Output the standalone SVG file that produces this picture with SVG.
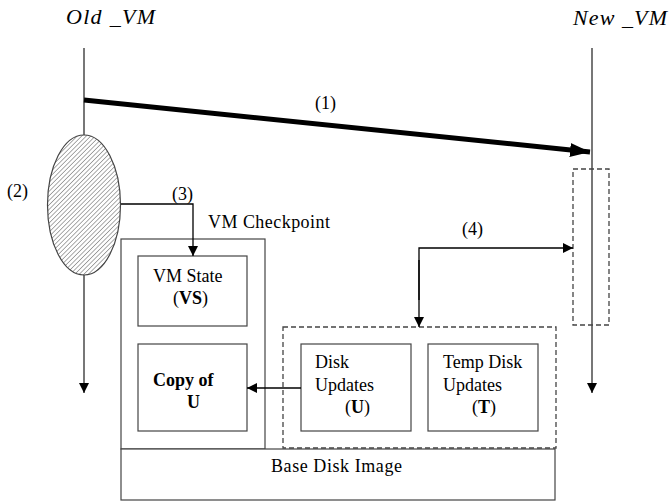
<svg xmlns="http://www.w3.org/2000/svg" width="669" height="502" viewBox="0 0 669 502">
<style>
  text { font-family: "Liberation Serif", "Times New Roman", serif; fill: #000; }
  .lbl { font-size: 18px; }
  .ital { font-size: 22px; font-style: italic; }
  .bold { font-weight: bold; }
  .life { stroke: #555; stroke-width: 1.6; fill: none; }
  .box { stroke: #444; stroke-width: 1.2; fill: #fff; }
  .dash { stroke: #444; stroke-width: 1.3; fill: none; stroke-dasharray: 5,3; }
  .conn { stroke: #000; stroke-width: 1.3; fill: none; }
</style>
<defs>
  <marker id="ah" markerWidth="10" markerHeight="10" refX="10" refY="5" orient="auto" markerUnits="userSpaceOnUse" viewBox="0 0 10 10">
    <path d="M0,0 L10,5 L0,10 z" fill="#000"/>
  </marker>
  <marker id="ahBig" markerWidth="20" markerHeight="14" refX="20" refY="7" orient="auto" markerUnits="userSpaceOnUse" viewBox="0 0 20 14">
    <path d="M0,0 L20,7 L0,14 z" fill="#000"/>
  </marker>
  <pattern id="hatch" width="3.2" height="3.2" patternUnits="userSpaceOnUse" patternTransform="rotate(45)">
    <rect width="3.2" height="3.2" fill="#fff"/>
    <line x1="0" y1="0" x2="0" y2="3.2" stroke="#666" stroke-width="1.1"/>
  </pattern>
</defs>

<g id="old_vm">
  <text class="ital" x="66" y="24" textLength="89" lengthAdjust="spacing">Old _VM</text>
  <line class="life" x1="84" y1="48" x2="84" y2="393" marker-end="url(#ah)"/>
</g>
<g id="new_vm">
  <text class="ital" x="573" y="25" textLength="94" lengthAdjust="spacing">New _VM</text>
  <line class="life" x1="592" y1="48" x2="592" y2="393" marker-end="url(#ah)"/>
</g>

<g id="ellipse2">
  <ellipse cx="84" cy="205" rx="36.5" ry="70" fill="url(#hatch)" stroke="#444" stroke-width="1.2"/>
  <text class="lbl" x="7" y="197">(2)</text>
</g>

<g id="new_vm_region">
  <rect class="dash" x="573" y="169" width="36" height="156"/>
</g>

<g id="checkpoint">
  <rect class="box" x="121" y="239" width="144" height="210"/>
  <text class="lbl" x="208" y="228" textLength="122" lengthAdjust="spacing">VM Checkpoint</text>
</g>

<g id="vm_state">
  <rect class="box" x="138" y="256" width="109" height="70"/>
  <text class="lbl" x="153" y="282">VM State</text>
  <text class="lbl" x="173" y="304">(<tspan class="bold">VS</tspan>)</text>
</g>

<g id="copy_u">
  <rect class="box" x="138" y="344" width="109" height="87"/>
  <text class="lbl bold" x="153" y="386">Copy of</text>
  <text class="lbl bold" x="187" y="408">U</text>
</g>

<g id="base_disk">
  <rect class="box" x="121" y="449" width="434" height="51"/>
  <text class="lbl" x="271" y="472" textLength="131" lengthAdjust="spacing">Base Disk Image</text>
</g>

<g id="disk_group">
  <rect class="dash" x="283" y="327" width="273" height="121"/>
</g>

<g id="disk_updates">
  <rect class="box" x="301" y="344" width="110" height="87"/>
  <text class="lbl" x="315" y="368">Disk</text>
  <text class="lbl" x="315" y="391">Updates</text>
  <text class="lbl" x="345" y="413">(<tspan class="bold">U</tspan>)</text>
</g>

<g id="temp_disk">
  <rect class="box" x="428" y="344" width="110" height="87"/>
  <text class="lbl" x="443" y="368">Temp Disk</text>
  <text class="lbl" x="443" y="391">Updates</text>
  <text class="lbl" x="472" y="413">(<tspan class="bold">T</tspan>)</text>
</g>

<g id="connectors">
  <line x1="84" y1="100" x2="590" y2="152" stroke="#000" stroke-width="5" marker-end="url(#ahBig)"/>
  <text class="lbl" x="315" y="109">(1)</text>
  <polyline class="conn" points="121,204 193,204 193,256" marker-end="url(#ah)"/>
  <text class="lbl" x="172" y="200">(3)</text>
  <polyline class="conn" points="419,300 419,248 573,248" marker-end="url(#ah)"/>
  <line class="conn" x1="419" y1="260" x2="419" y2="327" marker-end="url(#ah)"/>
  <text class="lbl" x="462" y="235">(4)</text>
  <line class="conn" x1="301" y1="388" x2="247" y2="388" marker-end="url(#ah)"/>
</g>
</svg>
